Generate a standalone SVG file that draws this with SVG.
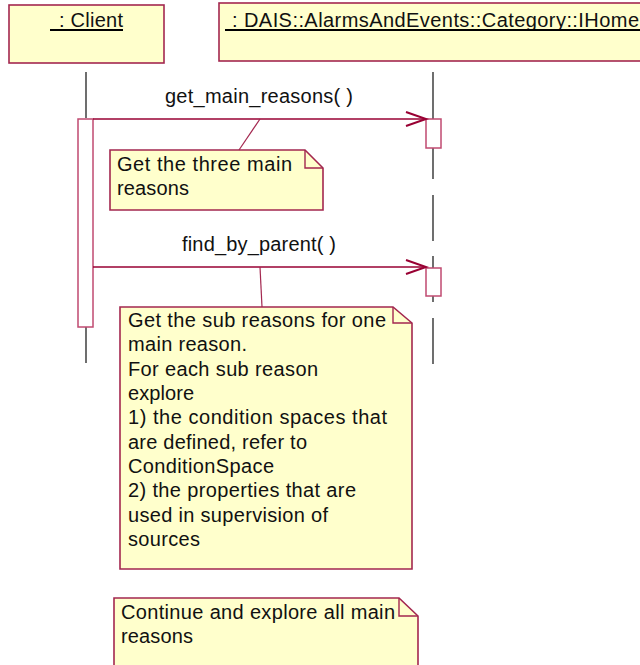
<svg xmlns="http://www.w3.org/2000/svg" width="640" height="665" viewBox="0 0 640 665">
<defs>
<style>
.obj{fill:#FFFFCC;stroke:#A3274F;stroke-width:1.6}
.note{fill:#FFFFCC;stroke:#A3274F;stroke-width:1.6}
.fold{fill:none;stroke:#A3274F;stroke-width:1.4}
.life{stroke:#222;stroke-width:1.3;fill:none}
.act{fill:#FFFFFF;stroke:#C04A70;stroke-width:1.5}
.msg{stroke:#990033;stroke-width:1.3;fill:none}
.head{stroke:#990033;stroke-width:2;fill:none}
.anchor{stroke:#A3274F;stroke-width:1.2;fill:none}
.ul{stroke:#000;stroke-width:2}
text{font-family:"Liberation Sans",Arial,sans-serif;font-size:20px;fill:#111}
</style>
</defs>
<rect width="640" height="665" fill="#FFFFFF"/>

<g id="client">
<rect class="obj" x="9" y="5" width="155" height="58"/>
<text x="59" y="27" textLength="64" lengthAdjust="spacing">: Client</text>
<line class="ul" x1="50" y1="30" x2="123" y2="30"/>
<path class="life" d="M86,72 V118 M86,327 V363"/>
<rect class="act" x="78" y="119" width="15" height="208"/>
</g>

<g id="ihome">
<rect class="obj" x="219" y="3" width="430" height="58"/>
<text x="232" y="27" textLength="407" lengthAdjust="spacing">: DAIS::AlarmsAndEvents::Category::IHome</text>
<line class="ul" x1="225" y1="30" x2="640" y2="30"/>
<path class="life" d="M433,72 V119 M433,148 V179 M433,195 V241 M433,256 V268 M433,296 V302 M433,318 V364"/>
<rect class="act" x="426" y="119" width="15" height="29"/>
<rect class="act" x="426" y="268" width="15" height="28"/>
</g>

<g id="note1">
<path class="note" d="M110,150 H305 L323,168 V210 H110 Z"/>
<path class="fold" d="M305,150 V168 H323"/>
<text x="117" y="171" textLength="175" lengthAdjust="spacing">Get the three main</text>
<text x="117" y="195" textLength="72" lengthAdjust="spacing">reasons</text>
</g>

<g id="note2">
<path class="note" d="M120,307 H393 L412,323 V569 H120 Z"/>
<path class="fold" d="M393,307 V323 H412"/>
<text x="128" y="327" textLength="258" lengthAdjust="spacing">Get the sub reasons for one</text>
<text x="128" y="351" textLength="119" lengthAdjust="spacing">main reason.</text>
<text x="128" y="376" textLength="190" lengthAdjust="spacing">For each sub reason</text>
<text x="128" y="400" textLength="66" lengthAdjust="spacing">explore</text>
<text x="128" y="424" textLength="259" lengthAdjust="spacing">1) the condition spaces that</text>
<text x="128" y="449" textLength="179" lengthAdjust="spacing">are defined, refer to</text>
<text x="128" y="473" textLength="146" lengthAdjust="spacing">ConditionSpace</text>
<text x="128" y="497" textLength="228" lengthAdjust="spacing">2) the properties that are</text>
<text x="128" y="522" textLength="200" lengthAdjust="spacing">used in supervision of</text>
<text x="128" y="546" textLength="72" lengthAdjust="spacing">sources</text>
</g>

<g id="note3">
<path class="note" d="M114,598 H399 L418,616 V670 H114 Z"/>
<path class="fold" d="M399,598 V616 H418"/>
<text x="121" y="619" textLength="274" lengthAdjust="spacing">Continue and explore all main</text>
<text x="121" y="643" textLength="72" lengthAdjust="spacing">reasons</text>
</g>

<g id="connectors">
<line class="msg" x1="93" y1="119" x2="426" y2="119"/>
<path class="head" d="M406,112 L426,119 L406,126"/>
<text x="165" y="103" textLength="188" lengthAdjust="spacing">get_main_reasons( )</text>
<line class="msg" x1="93" y1="267" x2="426" y2="267"/>
<path class="head" d="M406,260 L426,267 L406,274"/>
<text x="182" y="251" textLength="154" lengthAdjust="spacing">find_by_parent( )</text>
<line class="anchor" x1="260" y1="119" x2="239" y2="150"/>
<line class="anchor" x1="260" y1="267" x2="262" y2="307"/>
</g>
</svg>
